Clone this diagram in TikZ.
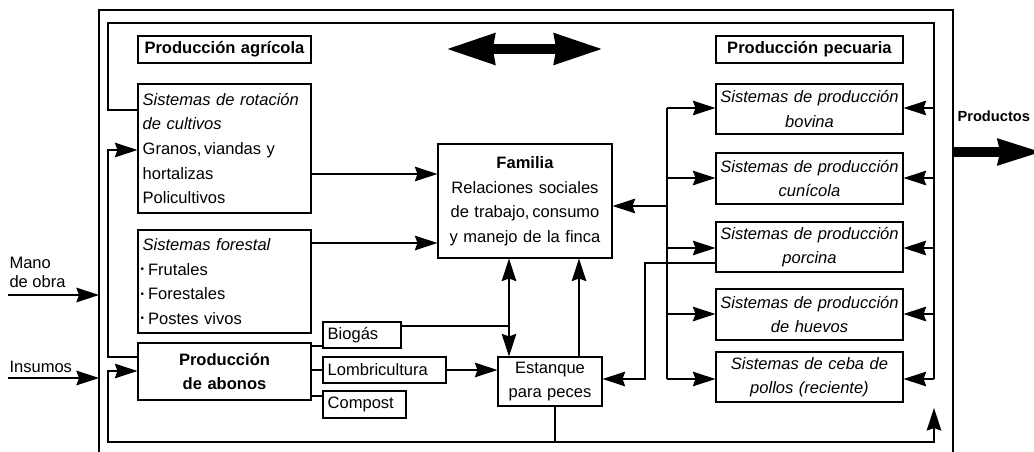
\documentclass[tikz,border=0pt]{standalone}
\usepackage{fontspec}
\setmainfont{Liberation Sans}
\usetikzlibrary{arrows.meta}
\newcommand\fs{\fontsize{12.4}{18.4}\selectfont}
\newcommand\bul{\raisebox{0.3ex}{\scalebox{0.6}{\textbullet}}\hspace{3pt}}
\begin{document}
\begin{tikzpicture}[x=0.75pt,y=-0.75pt,
  every path/.style={line width=0.8pt},
  box/.style={draw, line width=0.8pt, inner xsep=3.5pt, inner ysep=0pt, font=\fs, align=left},
  cbox/.style={box, align=center},
  pbox/.style={cbox, inner xsep=2pt, text width=136.25pt},
  arr/.style={-{Stealth[length=17pt,width=11pt,inset=2pt]}},
  fat/.style={line width=7.5pt},
  lbl/.style={font=\fs, inner sep=0pt, anchor=west, align=left}]
\useasboundingbox (0,0) rectangle (1034,452);
% outer frame
\coordinate (oBL) at (99,452);
\coordinate (oTL) at (99,10);
\coordinate (oTR) at (953,10);
\coordinate (oBR) at (953,452);
\draw (oBL) -- (oTL) -- (oTR) -- (oBR);
% boxes
\node[cbox, inner xsep=2pt, text width=125.75pt, minimum height=20.25pt] (agri) at (224.5,49.5) {\textbf{Producción agrícola}};
\node[pbox, minimum height=20.25pt] (pec) at (809.5,49.5) {\textbf{Producción pecuaria}};
\node[box, text width=122.75pt, minimum height=96.75pt] (rot) at (224.5,148.5) {\textit{Sistemas de rotación}\\\textit{de cultivos}\\Granos,\,viandas y\\hortalizas\\Policultivos};
\node[box, inner xsep=2pt, text width=125.75pt, minimum height=77.25pt] (for) at (224.5,281.5) {\textit{\hspace{1.5pt}Sistemas forestal}\\\bul Frutales\\\bul Forestales\\\bul Postes vivos};
\node[cbox, text width=122.75pt, minimum height=42.75pt] (abon) at (224.5,371.5) {\textbf{Producción}\\\textbf{de abonos}};
\node[box, text width=51.5pt, minimum height=19.5pt] (bio) at (362,335) {Biogás};
\node[box, text width=85.25pt, minimum height=19.5pt] (lom) at (384.5,370) {Lombricultura};
\node[box, text width=55.25pt, minimum height=20.25pt] (com) at (364.5,404.5) {Compost};
\node[cbox, text width=123.5pt, minimum height=85.5pt] (fam) at (525,201) {\textbf{Familia}\\Relaciones sociales\\de trabajo,\,consumo\\y manejo de la finca};
\node[cbox, text width=71pt, minimum height=36.75pt] (est) at (550,381.5) {Estanque\\para peces};
\node[pbox, minimum height=37.5pt] (bov) at (809.5,109) {\textit{Sistemas de producción}\\\textit{bovina}};
\node[pbox, minimum height=38.25pt] (cun) at (809.5,178.5) {\textit{Sistemas de producción}\\\textit{cunícola}};
\node[pbox, minimum height=37.5pt] (por) at (809.5,247) {\textit{Sistemas de producción}\\\textit{porcina}};
\node[pbox, minimum height=38.25pt] (hue) at (809.5,314.5) {\textit{Sistemas de producción}\\\textit{de huevos}};
\node[pbox, minimum height=37.5pt] (ceb) at (809.5,377) {\textit{Sistemas de ceba de}\\\textit{pollos (reciente)}};
% outside labels
\node[lbl, font=\fontsize{12.4}{14.2}\selectfont] (mano) at (9,272) {Mano\\de obra};
\node[lbl] (ins) at (9,367) {Insumos};
\node[lbl, font=\fontsize{11}{13}\selectfont] (prod) at (957,116) {\textbf{Productos}};
% big double arrow
\coordinate (dA) at (446,49);
\coordinate (dB) at (603,49);
\draw[fat, {Stealth[length=36pt,width=22pt,inset=1pt]}-{Stealth[length=36pt,width=22pt,inset=1pt]}] (dA) -- (dB);
% productos arrow
\coordinate (pA) at (953,152);
\coordinate (pB) at (1043,152);
\draw[fat, -{Stealth[length=33pt,width=18pt,inset=1pt]}] (pA) -- (pB);
% input arrows
\coordinate (m0) at (8,295);
\coordinate (i0) at (8,378);
\draw[arr] (m0) -- (oTL |- m0);
\draw[arr] (i0) -- (oTL |- i0);
% inner loop top
\coordinate (tl) at (108,23);
\coordinate (tr) at (934,23);
\coordinate (rb) at (934,379);
\draw (rot.west |- 0,110) -| (tl) -- (tr) -- (rb);
\foreach \n/\yy in {bov/108, cun/178, por/248, hue/314, ceb/379}
  \draw[arr] (934,\yy) -- (\n.east |- 0,\yy);
% abonos to rotacion
\draw[arr] (abon.west |- 0,357) -| (108,150) -- (rot.west |- 0,150);
% to familia
\draw[arr] (rot.east |- 0,174) -- (fam.west |- 0,174);
\draw[arr] (for.east |- 0,243) -- (fam.west |- 0,243);
% abonos outputs
\draw (abon.east |- 0,346) -- (bio.west |- 0,346);
\draw (abon.east |- 0,370) -- (lom.west |- 0,370);
\draw (abon.east |- 0,396) -- (com.west |- 0,396);
\draw[arr] (lom.east) -- (est.west |- lom.east);
% biogas junction
\coordinate (j1) at (509,326);
\draw (bio.east |- j1) -- (j1);
\draw[arr] (j1) -- (fam.south -| j1);
\draw[arr] (j1) -- (est.north -| j1);
\draw[arr] (est.north -| 579,0) -- (fam.south -| 579,0);
% pecuaria trunk
\coordinate (k1) at (667,108);
\coordinate (k5) at (667,379);
\draw (k1) -- (k5);
\draw[arr] (667,206) -- (fam.east |- 0,206);
\foreach \n/\yy in {bov/108, cun/178, por/248, hue/314, ceb/379}
  \draw[arr] (667,\yy) -- (\n.west |- 0,\yy);
% porcina to estanque
\draw[arr] (por.west |- 0,263) -| (645,379) -- (est.east |- 0,379);
% bottom loop
\coordinate (b0) at (555,442);
\coordinate (bL) at (108,442);
\coordinate (bR) at (934,442);
\draw (est.south -| b0) -- (b0);
\draw[arr] (b0) -- (bL) -- (108,371) -- (abon.west |- 0,371);
\draw[arr] (b0) -- (bR) -- (934,408);
\end{tikzpicture}
\end{document}
